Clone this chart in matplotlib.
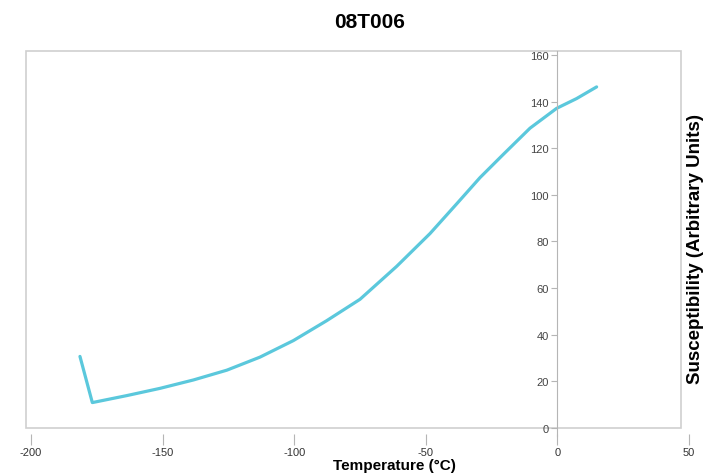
import matplotlib.pyplot as plt
from matplotlib.patches import Rectangle
from matplotlib.transforms import blended_transform_factory

# values
temperature = [-181.4, -176.7, -163.6, -151.0, -138.3, -125.6, -113.0, -100.3,
               -87.7, -75.0, -61.1, -48.4, -38.3, -29.4, -20.6, -10.4, -0.3,
               7.3, 14.9]
susceptibility = [30.7, 10.9, 13.9, 17.0, 20.6, 24.8, 30.4, 37.5, 46.0, 55.2,
                  69.3, 83.4, 96.1, 107.4, 117.3, 128.6, 137.1, 141.3, 146.3]
x_ticks = [-200, -150, -100, -50, 0, 50]
y_ticks = [0, 20, 40, 60, 80, 100, 120, 140, 160]

plt.rcParams['font.family'] = ['Liberation Sans', 'DejaVu Sans']
plt.rcParams['axes.unicode_minus'] = False
frame_col = "#cfcfcf"
axis_col = "#b5b5b5"

fig = plt.figure(figsize=(7.06, 4.77), dpi=100)
ax = fig.add_axes([26/706, 48/477, 663/706, 377/477])

ax.plot(temperature, susceptibility, color="#5bc8dc", lw=2.3,
        solid_joinstyle="round", solid_capstyle="round")

ax.set_xlim(-201.9, 50)
ax.set_ylim(1.9, 161.7)

# frame round the plot area (right edge a little inside x = 50)
for s in ["top", "right"]:
    ax.spines[s].set_visible(False)
trans = blended_transform_factory(ax.transData, ax.transAxes)
ax.add_patch(Rectangle((-201.9, 0), 248.8, 1, transform=trans, fill=False,
                       edgecolor=frame_col, lw=1.2, clip_on=False, zorder=0))

# y axis sits at x = 0
ax.spines["left"].set_position(("data", 0))
ax.spines["left"].set_color(axis_col)
ax.spines["left"].set_bounds(-3.5, 161.7)
ax.set_yticks(y_ticks)
ax.tick_params(axis="y", direction="out", length=4, width=0.8, color=axis_col,
               labelsize=8, labelcolor="#444444", pad=2)

# x ticks detached below the frame
ax.spines["bottom"].set_position(("outward", 4))
ax.spines["bottom"].set_color("none")
ax.set_xticks(x_ticks)
ax.tick_params(axis="x", direction="out", length=8, width=0.8, color=axis_col,
               labelsize=8, labelcolor="#333333", pad=2)

fig.text(370/706, 1 - 22/477, "08T006", ha="center", va="center",
         fontsize=15, fontweight="bold")
fig.text(394/706, 1 - 466/477, "Temperature (°C)", ha="center", va="center",
         fontsize=11, fontweight="bold")
fig.text(695/706, 1 - 249/477, "Susceptibility (Arbitrary Units)", ha="center",
         va="center", rotation=90, fontsize=13.5, fontweight="bold")

fig.savefig("out.png", dpi=100)
